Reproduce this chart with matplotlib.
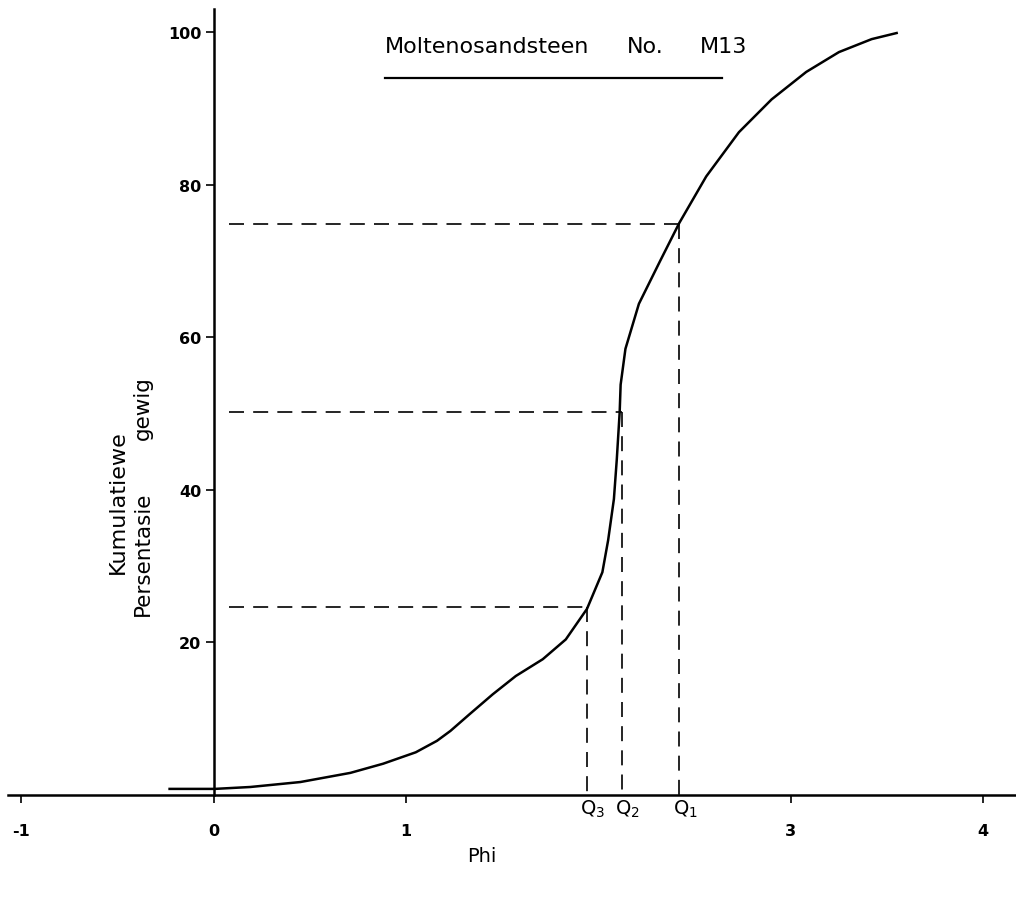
import matplotlib.pyplot as plt

plt.rcParams["font.family"] = ["DejaVu Sans"]

# kumulatiewe kurwe (phi, persentasie), afgelees van die grafiek
phi = [-0.23, 0.005, 0.19, 0.45, 0.71, 0.88, 1.05, 1.16, 1.23, 1.33,
       1.45, 1.57, 1.71, 1.83, 1.94, 2.02, 2.05, 2.08, 2.095, 2.11,
       2.115, 2.14, 2.21, 2.32, 2.42, 2.56, 2.73, 2.90, 3.08, 3.25,
       3.42, 3.55]
cum_pct = [0.8, 0.8, 1.05, 1.7, 2.9, 4.1, 5.6, 7.1, 8.4, 10.6,
           13.2, 15.6, 17.8, 20.4, 24.4, 29.2, 33.4, 38.8, 44.0, 50.2,
           53.8, 58.5, 64.4, 70.0, 75.0, 81.1, 86.9, 91.2, 94.8, 97.4,
           99.1, 99.9]

# kwartiele
q_labels = [r"$\mathrm{Q}_3$", r"$\mathrm{Q}_2$", r"$\mathrm{Q}_1$"]
q_phi = [1.94, 2.12, 2.42]
q_pct = [24.6, 50.2, 74.8]

x_ticks = [-1, 0, 1, 3, 4]
y_ticks = [20, 40, 60, 80, 100]

fig = plt.figure(figsize=(10.16, 9.03), dpi=100)
ax = fig.add_axes([0.0079, 0.1185, 0.992, 0.870])
ax.set_xlim(-1.07, 4.17)
ax.set_ylim(0, 103)

ax.spines["left"].set_position(("data", 0))
ax.spines["bottom"].set_position(("data", 0))
ax.spines["top"].set_visible(False)
ax.spines["right"].set_visible(False)
for s in ("left", "bottom"):
    ax.spines[s].set_linewidth(1.8)

ax.plot(phi, cum_pct, color="black", lw=1.8, solid_joinstyle="round")

for qx, qy in zip(q_phi, q_pct):
    ax.plot([0.08, qx], [qy, qy], color="black", lw=1.2, dashes=(9, 5.5))
    ax.plot([qx, qx], [qy, 0], color="black", lw=1.2, dashes=(9, 5.5))

for lab, qx in zip(q_labels, q_phi):
    ax.text(qx - 0.035, -0.4, lab, ha="left", va="top", fontsize=14)

ax.set_xticks(x_ticks)
ax.set_xticklabels([str(t) for t in x_ticks])
ax.set_yticks(y_ticks)
ax.set_yticklabels([str(t) for t in y_ticks])
ax.tick_params(axis="x", direction="out", length=6, width=1.2, pad=14,
               labelsize=11.5)
ax.tick_params(axis="y", direction="out", length=6, width=1.2, pad=3,
               labelsize=11.5)
for lbl in ax.get_xticklabels() + ax.get_yticklabels():
    lbl.set_fontweight("bold")

# titel met onderstreep
ax.text(0.888, 97.4, "Moltenosandsteen", ha="left", va="baseline", fontsize=16)
ax.text(2.15, 97.4, "No.", ha="left", va="baseline", fontsize=16)
ax.text(2.525, 97.4, "M13", ha="left", va="baseline", fontsize=16)
ax.plot([0.888, 2.64], [94.0, 94.0], color="black", lw=1.6)

# as-etikette
fig.text(0.116, 0.444, "Kumulatiewe", rotation=90, ha="center", va="center",
         fontsize=16)
fig.text(0.141, 0.387, "Persentasie", rotation=90, ha="center", va="center",
         fontsize=15.5)
fig.text(0.141, 0.548, "gewig", rotation=90, ha="center", va="center",
         fontsize=15.5)
fig.text(0.474, 0.051, "Phi", ha="center", va="center", fontsize=14)

fig.savefig("out.png", dpi=100)
